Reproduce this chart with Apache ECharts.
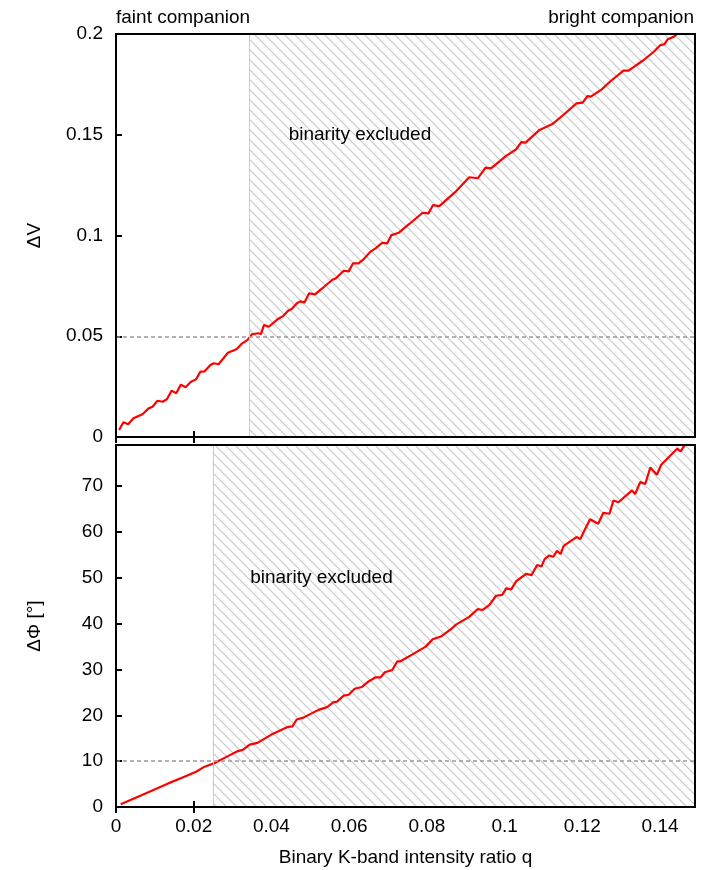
<!DOCTYPE html>
<html>
<head>
<meta charset="utf-8">
<script src="https://cdn.jsdelivr.net/npm/echarts@6/dist/echarts.min.js"></script>
<style>
  html, body { margin: 0; padding: 0; background: #fff; }
  #main { width: 720px; height: 870px; }
</style>
</head>
<body>
<div id="main"></div>
<script>
// top panel: visibility difference vs intensity ratio
var qV = [0.0008, 0.0019, 0.0031, 0.0045, 0.0068, 0.0084, 0.0094, 0.0107, 0.0120, 0.0131,
  0.0143, 0.0155, 0.0167, 0.0179, 0.0193, 0.0206, 0.0217, 0.0228, 0.0243, 0.0252,
  0.0264, 0.0288, 0.0310, 0.0323, 0.0338, 0.0350, 0.0366, 0.0373, 0.0381, 0.0393,
  0.0417, 0.0430, 0.0443, 0.0452, 0.0465, 0.0474, 0.0485, 0.0497, 0.0512, 0.0534,
  0.0556, 0.0566, 0.0586, 0.0599, 0.0610, 0.0624, 0.0637, 0.0655, 0.0668, 0.0685,
  0.0698, 0.0709, 0.0728, 0.0754, 0.0789, 0.0804, 0.0816, 0.0832, 0.0875, 0.0909,
  0.0931, 0.0951, 0.0965, 0.1004, 0.1030, 0.1043, 0.1054, 0.1090, 0.1123, 0.1151,
  0.1185, 0.1201, 0.1213, 0.1222, 0.1250, 0.1271, 0.1306, 0.1319, 0.1358, 0.1384,
  0.1401, 0.1411, 0.1420, 0.1436, 0.1449];
var dV = [0.0035, 0.0073, 0.0063, 0.0093, 0.0113, 0.0142, 0.0150, 0.0180, 0.0175, 0.0187,
  0.0230, 0.0217, 0.0260, 0.0247, 0.0274, 0.0286, 0.0324, 0.0326, 0.0357, 0.0366,
  0.0361, 0.0418, 0.0435, 0.0462, 0.0481, 0.0510, 0.0515, 0.0511, 0.0556, 0.0547,
  0.0586, 0.0600, 0.0627, 0.0635, 0.0663, 0.0673, 0.0668, 0.0713, 0.0708, 0.0743,
  0.0779, 0.0788, 0.0825, 0.0822, 0.0862, 0.0862, 0.0882, 0.0920, 0.0936, 0.0964,
  0.0961, 0.1002, 0.1014, 0.1056, 0.1113, 0.1110, 0.1151, 0.1146, 0.1219, 0.1289,
  0.1284, 0.1337, 0.1333, 0.1395, 0.1428, 0.1463, 0.1461, 0.1524, 0.1553, 0.1598,
  0.1656, 0.1659, 0.1692, 0.1689, 0.1725, 0.1763, 0.1818, 0.1818, 0.1871, 0.1912,
  0.1945, 0.1949, 0.1974, 0.1987, 0.2010];

// bottom panel: closure phase difference vs intensity ratio
var qPhi = [0.0012, 0.0064, 0.0133, 0.0176, 0.0206, 0.0228, 0.0254, 0.0288, 0.0314, 0.0327,
  0.0344, 0.0364, 0.0400, 0.0443, 0.0454, 0.0465, 0.0482, 0.0521, 0.0543, 0.0560,
  0.0569, 0.0586, 0.0599, 0.0614, 0.0633, 0.0650, 0.0668, 0.0681, 0.0692, 0.0711,
  0.0724, 0.0732, 0.0763, 0.0797, 0.0815, 0.0836, 0.0862, 0.0875, 0.0909, 0.0931,
  0.0944, 0.0961, 0.0978, 0.0994, 0.1004, 0.1017, 0.1030, 0.1056, 0.1069, 0.1084,
  0.1095, 0.1103, 0.1115, 0.1125, 0.1135, 0.1144, 0.1152, 0.1185, 0.1195, 0.1207,
  0.1220, 0.1241, 0.1254, 0.1270, 0.1280, 0.1293, 0.1328, 0.1336, 0.1349, 0.1362,
  0.1375, 0.1392, 0.1403, 0.1444, 0.1453, 0.1463];
var dPhi = [0.6, 2.5, 5.1, 6.6, 7.7, 8.8, 9.6, 11.1, 12.2, 12.5,
  13.6, 14.0, 15.8, 17.5, 17.6, 19.1, 19.5, 21.2, 21.8, 22.9,
  23.0, 24.3, 24.5, 25.8, 26.2, 27.4, 28.3, 28.3, 29.4, 29.9,
  31.8, 31.8, 33.3, 35.0, 36.6, 37.2, 38.8, 39.8, 41.5, 43.2,
  43.0, 44.1, 46.1, 46.3, 47.7, 47.5, 49.3, 50.9, 50.6, 52.8,
  52.5, 54.1, 54.9, 54.6, 55.9, 55.2, 57.0, 58.9, 58.5, 60.6,
  62.8, 61.8, 64.2, 64.0, 66.9, 66.5, 69.1, 68.3, 70.9, 70.5,
  74.1, 72.5, 74.7, 78.2, 77.6, 78.9];

var qMax = 0.149;
var vMax = 0.2, phiMax = 79;
var vLimit = 0.05, phiLimit = 10;
var qExclV = 0.0344, qExclPhi = 0.0249;
// x ticks left of the hatched area (the hatch hides the rest)
var xTicksOpen = [0, 0.02];

var font = 'Liberation Sans';
var fs = 19;

// hatch tile for the excluded region
var T = 10;
var tile = document.createElement('canvas');
tile.width = T; tile.height = T;
var ctx = tile.getContext('2d');
ctx.fillStyle = '#fff';
ctx.fillRect(0, 0, T, T);
ctx.strokeStyle = '#c8c8c8';
ctx.lineWidth = 1.2;
[-T, 0, T].forEach(function (o) {
  ctx.beginPath();
  ctx.moveTo(o - 1, -1);
  ctx.lineTo(o + T + 1, T + 1);
  ctx.stroke();
});
var hatch = { image: tile, repeat: 'repeat' };

function pairs(xs, ys) {
  return xs.map(function (x, i) { return [x, ys[i]]; });
}

function xAx(grid, pos, labels) {
  return {
    type: 'value', gridIndex: grid, position: pos, min: 0, max: qMax, interval: 0.02,
    axisLine: { show: false },
    axisTick: { show: true, inside: true, length: 6, customValues: xTicksOpen,
      lineStyle: { color: '#000', width: 2 } },
    axisLabel: { show: labels, color: '#000', fontFamily: font, fontSize: fs, margin: 10,
      showMaxLabel: false },
    splitLine: { show: false },
    name: labels ? 'Binary K-band intensity ratio q' : '',
    nameLocation: 'middle', nameGap: 41,
    nameTextStyle: { color: '#000', fontFamily: font, fontSize: fs }
  };
}

function yAx(grid, pos, max, step, name, labels) {
  return {
    type: 'value', gridIndex: grid, position: pos, min: 0, max: max, interval: step,
    axisLine: { show: false },
    axisTick: { show: labels, inside: true, length: 6, lineStyle: { color: '#000', width: 2 } },
    axisLabel: { show: labels, color: '#000', fontFamily: font, fontSize: fs, margin: 13,
      showMaxLabel: max === vMax },
    splitLine: { show: false },
    name: labels ? name : '',
    nameLocation: 'middle', nameGap: 72, nameRotate: 90,
    nameTextStyle: { color: '#000', fontFamily: font, fontSize: fs }
  };
}

function panel(idx, xs, ys, limit, qExcl, yMax, labelPos) {
  return {
    type: 'line',
    xAxisIndex: idx * 2,
    yAxisIndex: idx * 2,
    data: pairs(xs, ys),
    showSymbol: false,
    symbol: 'none',
    z: 3,
    lineStyle: { color: '#ff0000', width: 2.2 },
    markArea: {
      silent: true,
      itemStyle: { color: hatch, opacity: 1, borderWidth: 0 },
      data: [[{ xAxis: qExcl }, { xAxis: qMax }]]
    },
    markLine: {
      silent: true,
      symbol: 'none',
      label: { show: false },
      data: [
        [{ coord: [0, limit], lineStyle: { color: '#999', type: [4, 3], width: 1.5 } },
         { coord: [qMax, limit] }],
        [{ coord: [qExcl, 0], lineStyle: { color: '#ccc', type: 'solid', width: 1 } },
         { coord: [qExcl, yMax] }]
      ]
    },
    markPoint: {
      silent: true,
      symbol: 'circle',
      symbolSize: 1,
      itemStyle: { color: 'rgba(0,0,0,0)' },
      label: {
        show: true, position: 'right', distance: 0, formatter: 'binarity excluded',
        color: '#000', fontFamily: font, fontSize: fs
      },
      data: [{ coord: labelPos }]
    }
  };
}

var chart = echarts.init(document.getElementById('main'));
var option = {
  animation: false,
  backgroundColor: '#fff',
  title: [
    { text: 'faint companion', left: 111, top: 3,
      textStyle: { color: '#000', fontFamily: font, fontSize: fs, fontWeight: 'normal' } },
    { text: 'bright companion', right: 21, top: 3,
      textStyle: { color: '#000', fontFamily: font, fontSize: fs, fontWeight: 'normal' } }
  ],
  grid: [
    { left: 116, right: 25, top: 34, height: 403, show: true, z: 10,
      backgroundColor: 'rgba(0,0,0,0)', borderColor: '#000', borderWidth: 2 },
    { left: 116, right: 25, top: 445, height: 362, show: true, z: 10,
      backgroundColor: 'rgba(0,0,0,0)', borderColor: '#000', borderWidth: 2 }
  ],
  xAxis: [
    xAx(0, 'bottom', false),
    xAx(0, 'top', false),
    xAx(1, 'bottom', true),
    xAx(1, 'top', false)
  ],
  yAxis: [
    yAx(0, 'left', vMax, 0.05, '\u0394V', true),
    yAx(0, 'right', vMax, 0.05, '', false),
    yAx(1, 'left', phiMax, 10, '\u0394\u03A6 [\u00B0]', true),
    yAx(1, 'right', phiMax, 10, '', false)
  ],
  series: [
    panel(0, qV, dV, vLimit, qExclV, vMax, [0.0443, 0.15]),
    panel(1, qPhi, dPhi, phiLimit, qExclPhi, phiMax, [0.0344, 50])
  ]
};
chart.setOption(option);
</script>
</body>
</html>
